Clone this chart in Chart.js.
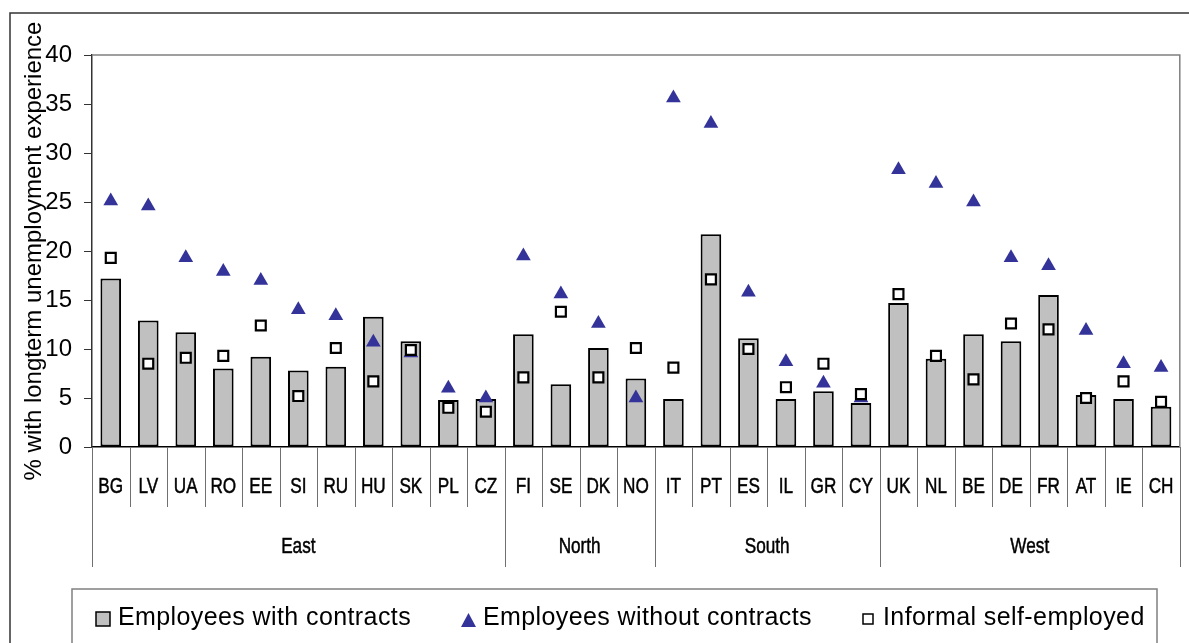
<!DOCTYPE html>
<html>
<head>
<meta charset="utf-8">
<script src="https://cdn.jsdelivr.net/npm/chart.js@4/dist/chart.umd.min.js"></script>
<style>
  html, body { margin: 0; padding: 0; background: #fff; }
  #wrap { position: relative; width: 1189px; height: 643px; }
</style>
</head>
<body>
<div id="wrap"><canvas id="chart"></canvas></div>
<script>
// --- data ---
const countries = ['BG', 'LV', 'UA', 'RO', 'EE', 'SI', 'RU', 'HU', 'SK', 'PL', 'CZ',
                   'FI', 'SE', 'DK', 'NO',
                   'IT', 'PT', 'ES', 'IL', 'GR', 'CY',
                   'UK', 'NL', 'BE', 'DE', 'FR', 'AT', 'IE', 'CH'];
const regions = ['East', 'North', 'South', 'West'];
const regionSizes = [11, 4, 6, 8];

const withContracts = [17.2, 12.9, 11.7, 8.0, 9.2, 7.8, 8.2, 13.3, 10.8, 4.8, 4.9,
                       11.5, 6.4, 10.1, 7.0,
                       4.9, 21.7, 11.1, 4.9, 5.7, 4.5,
                       14.7, 9.0, 11.5, 10.8, 15.5, 5.3, 4.9, 4.1];
const withoutContracts = [25.1, 24.6, 19.3, 17.9, 17.0, 14.0, 13.4, 10.7, 9.6, 6.0, 5.0,
                          19.5, 15.6, 12.6, 5.0,
                          35.6, 33.0, 15.8, 8.7, 6.5, 5.0,
                          28.3, 26.9, 25.0, 19.3, 18.5, 11.9, 8.5, 8.1];
const selfEmployed = [19.3, 8.5, 9.1, 9.3, 12.4, 5.2, 10.1, 6.7, 9.9, 4.0, 3.6,
                      7.1, 13.8, 7.1, 10.1,
                      8.1, 17.1, 10.0, 6.1, 8.5, 5.4,
                      15.6, 9.3, 6.9, 12.6, 12.0, 5.0, 6.7, 4.6];
const yTicks = [0, 5, 10, 15, 20, 25, 30, 35, 40];
const legendLabels = ['Employees with contracts', 'Employees without contracts', 'Informal self-employed'];
const yTitle = '% with longterm unemployment experience';

const BLUE = '#333399';
const SANS = '"Liberation Sans", Arial, sans-serif';

// draw text squeezed horizontally (no Arial Narrow here)
function narrowText(ctx, text, cx, baseline, squeeze) {
    ctx.save();
    ctx.translate(cx, baseline);
    ctx.scale(squeeze, 1);
    ctx.fillText(text, 0, 0);
    ctx.lineWidth = 0.5;
    ctx.strokeStyle = ctx.fillStyle;
    ctx.strokeText(text, 0, 0);
    ctx.restore();
}

// frame, two-level category axis, y title and legend
const decorPlugin = {
    id: 'decor',
    afterDraw(chart) {
        const { ctx, chartArea: a, scales: { x } } = chart;
        const w = (a.right - a.left) / countries.length;
        ctx.save();

        // outer frame (top + left only visible)
        ctx.strokeStyle = '#333';
        ctx.lineWidth = 1.5;
        ctx.beginPath();
        ctx.moveTo(10, 643);
        ctx.lineTo(10, 13);
        ctx.lineTo(1189, 13);
        ctx.stroke();

        // plot area top/right border
        ctx.strokeStyle = '#808080';
        ctx.lineWidth = 1.5;
        ctx.beginPath();
        ctx.moveTo(a.left, a.top);
        ctx.lineTo(a.right, a.top);
        ctx.lineTo(a.right, a.bottom);
        ctx.stroke();

        // separators under the axis
        const groupEdges = [0];
        regionSizes.forEach(n => groupEdges.push(groupEdges[groupEdges.length - 1] + n));
        ctx.strokeStyle = '#707070';
        ctx.lineWidth = 1;
        for (let i = 0; i <= countries.length; i++) {
            const px = Math.round(x.getPixelForValue(Math.min(i, countries.length - 1)) + (i === countries.length ? w / 2 : -w / 2)) + 0.5;
            const bottom = groupEdges.includes(i) ? 567 : 507;
            ctx.beginPath();
            ctx.moveTo(px, a.bottom);
            ctx.lineTo(px, bottom);
            ctx.stroke();
        }

        // country labels
        ctx.fillStyle = '#000';
        ctx.textAlign = 'center';
        ctx.textBaseline = 'alphabetic';
        ctx.font = '22px ' + SANS;
        countries.forEach((c, i) => {
            narrowText(ctx, c, x.getPixelForValue(i), 493, 0.78);
        });

        // region labels
        regions.forEach((r, g) => {
            const first = x.getPixelForValue(groupEdges[g]) - w / 2;
            const last = x.getPixelForValue(groupEdges[g + 1] - 1) + w / 2;
            narrowText(ctx, r, (first + last) / 2, 553, 0.78);
        });

        // y axis title
        ctx.save();
        ctx.translate(34, (a.top + a.bottom) / 2);
        ctx.rotate(-Math.PI / 2);
        ctx.font = '24px ' + SANS;
        ctx.textBaseline = 'middle';
        ctx.fillText(yTitle, 0, 0);
        ctx.restore();

        // legend box
        ctx.strokeStyle = '#808080';
        ctx.lineWidth = 1.5;
        ctx.beginPath();
        ctx.moveTo(72, 643);
        ctx.lineTo(72, 589);
        ctx.lineTo(1157, 589);
        ctx.lineTo(1157, 643);
        ctx.stroke();

        ctx.font = '25px ' + SANS;
        ctx.letterSpacing = '0.4px';
        ctx.textAlign = 'left';
        ctx.textBaseline = 'alphabetic';

        // bar swatch
        ctx.fillStyle = '#c0c0c0';
        ctx.fillRect(96, 612, 14, 14);
        ctx.strokeStyle = '#000';
        ctx.lineWidth = 1.5;
        ctx.strokeRect(96, 612, 14, 14);
        ctx.fillStyle = '#000';
        ctx.fillText(legendLabels[0], 118, 625);

        // triangle swatch
        ctx.fillStyle = BLUE;
        ctx.beginPath();
        ctx.moveTo(468.5, 613);
        ctx.lineTo(476, 627);
        ctx.lineTo(461, 627);
        ctx.closePath();
        ctx.fill();
        ctx.fillStyle = '#000';
        ctx.fillText(legendLabels[1], 483, 625);

        // square swatch
        ctx.fillStyle = '#fff';
        ctx.fillRect(863, 614, 10, 10);
        ctx.strokeStyle = '#000';
        ctx.lineWidth = 1.5;
        ctx.strokeRect(863, 614, 10, 10);
        ctx.fillStyle = '#000';
        ctx.fillText(legendLabels[2], 883, 625);

        ctx.restore();
    }
};

const ctx = document.getElementById('chart');
new Chart(ctx, {
    data: {
        labels: countries,
        datasets: [{
            type: 'bar',
            label: legendLabels[0],
            data: withContracts,
            backgroundColor: '#c0c0c0',
            borderColor: '#000',
            borderWidth: 2,
            borderSkipped: false,
            barPercentage: 0.55,
            categoryPercentage: 1,
            order: 3
        }, {
            type: 'line',
            label: legendLabels[1],
            data: withoutContracts,
            showLine: false,
            pointStyle: 'triangle',
            pointRadius: 8.5,
            pointBackgroundColor: BLUE,
            pointBorderColor: BLUE,
            pointBorderWidth: 0,
            order: 2
        }, {
            type: 'line',
            label: legendLabels[2],
            data: selfEmployed,
            showLine: false,
            pointStyle: 'rect',
            pointRadius: 7,
            pointBackgroundColor: '#fff',
            pointBorderColor: '#000',
            pointBorderWidth: 2.2,
            order: 1
        }]
    },
    options: {
        responsive: true,
        maintainAspectRatio: false,
        animation: false,
        events: [],
        layout: { padding: { top: 55, right: 5, left: 0, bottom: 0 } },
        plugins: {
            legend: { display: false },
            tooltip: { enabled: false },
            title: { display: false }
        },
        scales: {
            x: {
                type: 'category',
                offset: true,
                grid: { display: false },
                ticks: { display: false },
                border: { color: '#000', width: 1.5 },
                afterFit: (scale) => { scale.height = 196; }
            },
            y: {
                min: 0,
                max: 40,
                afterBuildTicks: (scale) => { scale.ticks = yTicks.map(v => ({ value: v })); },
                grid: { drawOnChartArea: false, drawTicks: true, tickLength: 8, color: '#333', lineWidth: 1 },
                border: { color: '#333', width: 1.5 },
                ticks: {
                    padding: 12,
                    color: '#000',
                    font: { family: SANS, size: 24 }
                },
                afterFit: (scale) => { scale.width = 92; }
            }
        }
    },
    plugins: [decorPlugin]
});
</script>
</body>
</html>
